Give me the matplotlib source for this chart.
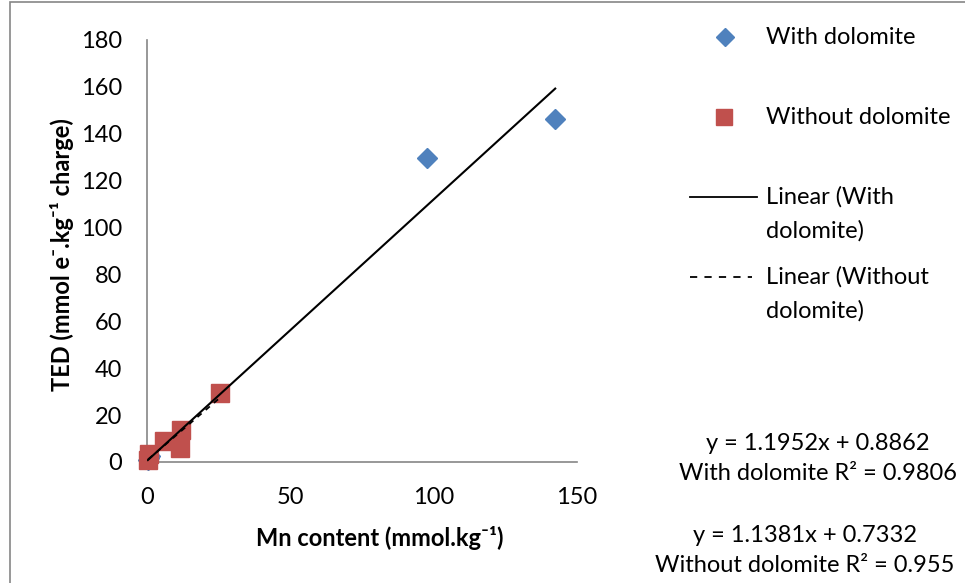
import numpy as np
import matplotlib
matplotlib.use("Agg")
import matplotlib.pyplot as plt
from matplotlib.lines import Line2D
from matplotlib.patches import Rectangle

plt.rcParams["font.family"] = ["Lato", "DejaVu Sans"]

# Data
with_x = [0.3, 0.6, 1.0, 97.5, 142.4]
with_y = [0.8, 1.6, 2.4, 129.5, 146.2]

without_x = [0.4, 0.6, 5.8, 11.9, 11.5, 25.6]
without_y = [0.9, 3.3, 9.0, 13.7, 5.9, 29.3]

# trend lines as drawn (slope, intercept)
trend_with = [1.115, 0.5]
trend_without = [1.05, 0.7]

x_ticks = [0, 50, 100, 150]
y_ticks = list(range(0, 181, 20))

eq_with = "y = 1.1952x + 0.8862\nWith dolomite R² = 0.9806"
eq_without = "y = 1.1381x + 0.7332\nWithout dolomite R² = 0.955"

blue = "#4F81BD"
red = "#C0504D"
axis_gray = "#868686"
fs = 17

W, H = 965, 583
fig = plt.figure(figsize=(W / 100, H / 100), dpi=100)

# outer chart border (cropped on right/bottom)
fig.patches.append(Rectangle((10 / W, -0.1), 1.2, 1 - 2 / H + 0.1,
                             transform=fig.transFigure, fill=False,
                             edgecolor=axis_gray, linewidth=1.2))

ax = fig.add_axes([147 / W, 1 - 462 / H, (577 - 147) / W, (462 - 40) / H])

ax.plot(with_x, with_y, linestyle="none", marker="D", markersize=10,
        color=blue, markeredgecolor=blue, zorder=3, clip_on=False)
ax.plot(without_x, without_y, linestyle="none", marker="s", markersize=13.5,
        color=red, markeredgecolor=red, zorder=4, clip_on=False)

xs = np.array([min(with_x), max(with_x)])
ax.plot(xs, np.polyval(trend_with, xs), color="black", linewidth=1.5, zorder=5)
xs = np.array([min(without_x), max(without_x)])
ax.plot(xs, np.polyval(trend_without, xs), color="black", linewidth=1.3,
        linestyle=(0, (3, 3)), zorder=5)

ax.set_xlim(0, 150)
ax.set_ylim(0, 180)
ax.set_xticks(x_ticks)
ax.set_yticks(y_ticks)
ax.tick_params(length=0, labelsize=fs, colors="black")
ax.tick_params(axis="y", pad=18)
ax.tick_params(axis="x", pad=18)
for s in ["top", "right"]:
    ax.spines[s].set_visible(False)
for s in ["left", "bottom"]:
    ax.spines[s].set_color(axis_gray)
    ax.spines[s].set_linewidth(1.2)

fig.text(380 / W, 1 - 538 / H, "Mn content (mmol.kg⁻¹)", ha="center",
         va="center", fontsize=fs, fontweight="bold")
fig.text(62 / W, 1 - 255 / H, "TED (mmol e⁻.kg⁻¹ charge)", ha="center",
         va="center", fontsize=fs, fontweight="bold", rotation=90)

# legend, drawn by hand to keep Excel spacing
fig.lines.append(Line2D([725 / W], [1 - 37 / H], marker="D", markersize=9,
                        color=blue, transform=fig.transFigure))
fig.lines.append(Line2D([724 / W], [1 - 117 / H], marker="s", markersize=12,
                        color=red, transform=fig.transFigure))
fig.lines.append(Line2D([690 / W, 757 / W], [1 - 197 / H] * 2, color="black",
                        linewidth=1.3, transform=fig.transFigure))
fig.lines.append(Line2D([690 / W, 752 / W], [1 - 277 / H] * 2, color="black",
                        linewidth=1.3, linestyle=(0, (4, 4)),
                        transform=fig.transFigure))
fig.text(766 / W, 1 - 37 / H, "With dolomite", va="center", fontsize=fs)
fig.text(766 / W, 1 - 117 / H, "Without dolomite", va="center", fontsize=fs)
fig.text(766 / W, 1 - 213.5 / H, "Linear (With\ndolomite)", va="center",
         fontsize=fs, linespacing=1.7)
fig.text(766 / W, 1 - 293.5 / H, "Linear (Without\ndolomite)", va="center",
         fontsize=fs, linespacing=1.7)

fig.text(818 / W, 1 - 458.5 / H, eq_with, ha="center", va="center",
         multialignment="center", fontsize=fs, linespacing=1.55)
fig.text(805 / W, 1 - 550.5 / H, eq_without, ha="center", va="center",
         multialignment="center", fontsize=fs, linespacing=1.55)

fig.savefig("out.png", dpi=100)
